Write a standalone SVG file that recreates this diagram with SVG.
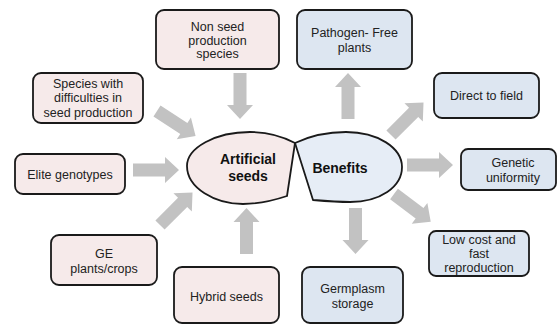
<svg xmlns="http://www.w3.org/2000/svg" xmlns:xlink="http://www.w3.org/1999/xlink" width="557" height="325" viewBox="0 0 557 325">
<style>
.box{stroke:#1a1a1a;stroke-width:1.8}
.pink{fill:#f6eaea}
.blue{fill:#dde6f1}
text{font-family:"Liberation Sans",Arial,sans-serif;font-size:12.5px;fill:#222;text-anchor:middle}
.big{font-size:14px;font-weight:bold;fill:#111}
.arr{fill:#c2c2c2}
</style>
<defs>
<path id="arrow" class="arr" d="M0,-6.5 H32 V-13 L46,0 L32,13 V6.5 H0 Z"/>
</defs>
<rect width="557" height="325" fill="#ffffff"/>
<g id="connectors">
<use xlink:href="#arrow" transform="translate(157,111) rotate(33)"/>
<use xlink:href="#arrow" transform="translate(240,73) rotate(90)"/>
<use xlink:href="#arrow" transform="translate(133,170)"/>
<use xlink:href="#arrow" transform="translate(160,225) rotate(-45)"/>
<use xlink:href="#arrow" transform="translate(246.5,254) rotate(-90)"/>
<use xlink:href="#arrow" transform="translate(348,119) rotate(-90)"/>
<use xlink:href="#arrow" transform="translate(391,135) rotate(-45)"/>
<use xlink:href="#arrow" transform="translate(407,165)"/>
<use xlink:href="#arrow" transform="translate(394,194) rotate(37)"/>
<use xlink:href="#arrow" transform="translate(355.5,208) rotate(90)"/>
</g>
<g id="artificial-seeds">
<path class="box pink" d="M295,143 C282,136 266,132 250,132 C215,132 187,148 187,166 C187,188 215,204 243,204 C260,204 275,200 287,196 Z"/>
<text class="big" x="248" y="164">Artificial</text>
<text class="big" x="248" y="181">seeds</text>
</g>
<g id="benefits">
<path class="box" style="fill:#e6edf6" d="M295,143 C312,135 328,132 346,132 C378,132 402,148 402,167 C402,187 380,202 350,202 C338,202 325,201 313,200 Z"/>
<text class="big" x="340" y="173">Benefits</text>
</g>
<g id="non-seed">
<rect class="box pink" x="156" y="10" width="123" height="59" rx="8"/>
<text x="217.5" y="30.5">Non seed</text>
<text x="217.5" y="44.5">production</text>
<text x="217.5" y="57.5">species</text>
</g>
<g id="species-difficulties">
<rect class="box pink" x="33" y="73" width="110" height="50" rx="8"/>
<text x="88" y="87.5">Species with</text>
<text x="88" y="102">difficulties in</text>
<text x="88" y="116.5">seed production</text>
</g>
<g id="elite">
<rect class="box pink" x="15" y="154" width="110" height="40" rx="8"/>
<text x="70" y="179">Elite genotypes</text>
</g>
<g id="ge-plants">
<rect class="box pink" x="51" y="235" width="106" height="50" rx="8"/>
<text x="104" y="257.5">GE</text>
<text x="104" y="272.5">plants/crops</text>
</g>
<g id="hybrid">
<rect class="box pink" x="174" y="267" width="105" height="56" rx="8"/>
<text x="226.5" y="300.5">Hybrid  seeds</text>
</g>
<g id="pathogen-free">
<rect class="box blue" x="297" y="10" width="115" height="59" rx="8"/>
<text x="354.5" y="36.5">Pathogen- Free</text>
<text x="354.5" y="51.5">plants</text>
</g>
<g id="direct-field">
<rect class="box blue" x="434" y="73" width="105" height="45" rx="8"/>
<text x="486.5" y="100">Direct to field</text>
</g>
<g id="genetic-uniformity">
<rect class="box blue" x="461" y="149" width="95" height="41" rx="7"/>
<text x="513" y="167">Genetic</text>
<text x="513" y="182">uniformity</text>
</g>
<g id="low-cost">
<rect class="box blue" x="429" y="231" width="100" height="45" rx="7"/>
<text x="479" y="243.5">Low cost and</text>
<text x="479" y="257.5">fast</text>
<text x="479" y="271.5">reproduction</text>
</g>
<g id="germplasm">
<rect class="box blue" x="302" y="267" width="101" height="56" rx="8"/>
<text x="352.5" y="292.5">Germplasm</text>
<text x="352.5" y="308">storage</text>
</g>
</svg>
